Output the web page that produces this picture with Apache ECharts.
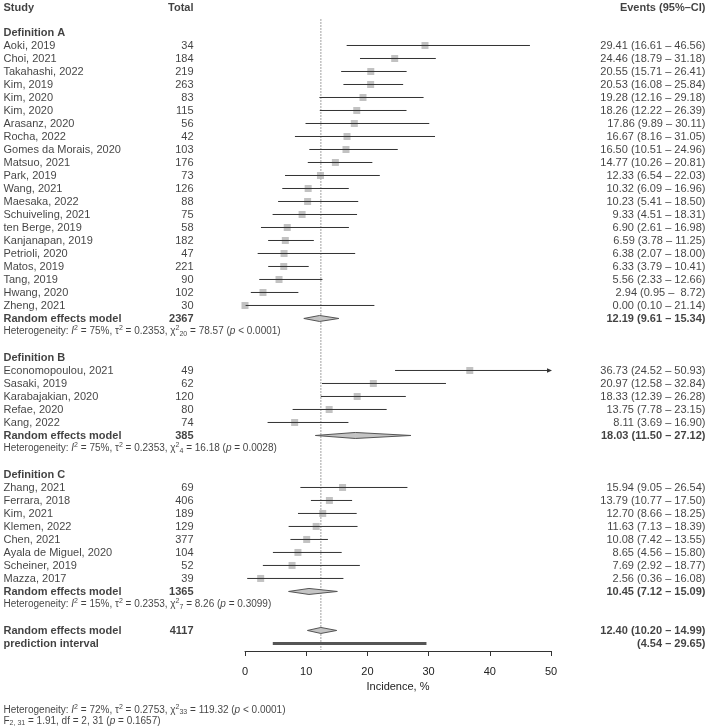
<!DOCTYPE html>
<html>
<head>
    <meta charset="utf-8">
    <title>Forest plot - Incidence</title>
    <script src="https://cdn.jsdelivr.net/npm/echarts@6/dist/echarts.min.js"></script>
    <style>
        html, body { margin: 0; padding: 0; background: #fff; }
        #chart { width: 709px; height: 728px; }
    </style>
</head>
<body>
<div id="chart"></div>
<script type="text/javascript">
    // ---- data ----
    var groupNames = ['Definition A', 'Definition B', 'Definition C'];

    var studiesA = ['Aoki, 2019', 'Choi, 2021', 'Takahashi, 2022', 'Kim, 2019', 'Kim, 2020', 'Kim, 2020',
        'Arasanz, 2020', 'Rocha, 2022', 'Gomes da Morais, 2020', 'Matsuo, 2021', 'Park, 2019', 'Wang, 2021',
        'Maesaka, 2022', 'Schuiveling, 2021', 'ten Berge, 2019', 'Kanjanapan, 2019', 'Petrioli, 2020',
        'Matos, 2019', 'Tang, 2019', 'Hwang, 2020', 'Zheng, 2021'];
    var totalsA = [34, 184, 219, 263, 83, 115, 56, 42, 103, 176, 73, 126, 88, 75, 58, 182, 47, 221, 90, 102, 30];
    var estA = [29.41, 24.46, 20.55, 20.53, 19.28, 18.26, 17.86, 16.67, 16.50, 14.77, 12.33, 10.32, 10.23, 9.33, 6.90, 6.59, 6.38, 6.33, 5.56, 2.94, 0.00];
    var lowA = [16.61, 18.79, 15.71, 16.08, 12.16, 12.22, 9.89, 8.16, 10.51, 10.26, 6.54, 6.09, 5.41, 4.51, 2.61, 3.78, 2.07, 3.79, 2.33, 0.95, 0.10];
    var upA = [46.56, 31.18, 26.41, 25.84, 29.18, 26.39, 30.11, 31.05, 24.96, 20.81, 22.03, 16.96, 18.50, 18.31, 16.98, 11.25, 18.00, 10.41, 12.66, 8.72, 21.14];

    var studiesB = ['Economopoulou, 2021', 'Sasaki, 2019', 'Karabajakian, 2020', 'Refae, 2020', 'Kang, 2022'];
    var totalsB = [49, 62, 120, 80, 74];
    var estB = [36.73, 20.97, 18.33, 13.75, 8.11];
    var lowB = [24.52, 12.58, 12.39, 7.78, 3.69];
    var upB = [50.93, 32.84, 26.28, 23.15, 16.90];

    var studiesC = ['Zhang, 2021', 'Ferrara, 2018', 'Kim, 2021', 'Klemen, 2022', 'Chen, 2021',
        'Ayala de Miguel, 2020', 'Scheiner, 2019', 'Mazza, 2017'];
    var totalsC = [69, 406, 189, 129, 377, 104, 52, 39];
    var estC = [15.94, 13.79, 12.70, 11.63, 10.08, 8.65, 7.69, 2.56];
    var lowC = [9.05, 10.77, 8.66, 7.13, 7.42, 4.56, 2.92, 0.36];
    var upC = [26.54, 17.50, 18.25, 18.39, 13.55, 15.80, 18.77, 16.08];

    // pooled (random effects) per group
    var pooledTotal = [2367, 385, 1365];
    var pooledEst = [12.19, 18.03, 10.45];
    var pooledLow = [9.61, 11.50, 7.12];
    var pooledUp = [15.34, 27.12, 15.09];
    var hetI2 = ['75%', '75%', '15%'];
    var hetTau2 = ['0.2353', '0.2353', '0.2353'];
    var hetDf = ['20', '4', '7'];
    var hetChi2 = ['78.57', '16.18', '8.26'];
    var hetP = ['< 0.0001', '= 0.0028', '= 0.3099'];

    // overall
    var overallTotal = 4117;
    var overallEst = 12.40, overallLow = 10.20, overallUp = 14.99;
    var predLow = 4.54, predUp = 29.65;
    var overallHet = { i2: '72%', tau2: '0.2753', df: '33', chi2: '119.32', p: '< 0.0001' };
    var subgroupTest = { f: '2, 31', val: '1.91', df: '2, 31', p: '= 0.1657' };

    var xTicks = [0, 10, 20, 30, 40, 50];

    // ---- layout ----
    var FONT = '"Liberation Sans", Arial, Helvetica, sans-serif';
    var xMin = xTicks[0], xMax = xTicks[xTicks.length - 1];
    var colStudy = 3, colTotal = 194, colEvents = 706;

    var groups = [
        { names: studiesA, totals: totalsA, est: estA, low: lowA, up: upA },
        { names: studiesB, totals: totalsB, est: estB, low: lowB, up: upB },
        { names: studiesC, totals: totalsC, est: estC, low: lowC, up: upC }
    ];

    function fmt(v) { return v.toFixed(2); }
    function ciText(e, l, u) {
        var us = fmt(u);
        if (u < 10) us = ' ' + us;
        return (e === null ? '' : fmt(e) + ' ') + '(' + fmt(l) + ' \u2013 ' + us + ')';
    }
    function it(s) { return '{it|' + s + '}'; }
    function sup(s) { return '{sup|' + s + '}'; }
    function sub(s) { return '{sub|' + s + '}'; }
    function hetText(i2, tau2, df, chi2, p) {
        return '{t|Heterogeneity: }' + it('I') + sup('2') + '{t| = ' + i2 + ', \u03c4}' + sup('2') +
            '{t| = ' + tau2 + ', \u03c7}' + sup('2') + sub(df) + '{t| = ' + chi2 + ' (}' + it('p') + '{t| ' + p + ')}';
    }

    var textData = [];
    function addText(x, row, text, alignLeft, bold) {
        textData.push({
            value: [x, row],
            name: text,
            label: {
                position: alignLeft ? 'right' : 'left',
                fontWeight: bold ? 'bold' : 'normal'
            }
        });
    }

    var squareData = [], ciData = [], diamondData = [], predData = [], refData = [];

    addText(colStudy, -2.85, 'Study', true, true);
    addText(colTotal, -2.85, 'Total', false, true);
    addText(colEvents, -2.85, 'Events (95%\u2013CI)', false, true);

    var r = -1;
    groups.forEach(function (g, gi) {
        addText(colStudy, r, groupNames[gi], true, true);
        g.names.forEach(function (nm, i) {
            var row = r + 1 + i;
            addText(colStudy, row, nm, true, false);
            addText(colTotal, row, String(g.totals[i]), false, false);
            addText(colEvents, row, ciText(g.est[i], g.low[i], g.up[i]), false, false);
            squareData.push([g.est[i], row]);
            ciData.push([g.low[i], g.up[i], row]);
        });
        var reRow = r + g.names.length + 1;
        addText(colStudy, reRow, 'Random effects model', true, true);
        addText(colTotal, reRow, String(pooledTotal[gi]), false, true);
        addText(colEvents, reRow, ciText(pooledEst[gi], pooledLow[gi], pooledUp[gi]), false, true);
        diamondData.push([pooledLow[gi], pooledEst[gi], pooledUp[gi], reRow]);
        addText(colStudy, reRow + 1, hetText(hetI2[gi], hetTau2[gi], hetDf[gi], hetChi2[gi], hetP[gi]), true, false);
        r += g.names.length + 4;
    });

    addText(colStudy, r, 'Random effects model', true, true);
    addText(colTotal, r, String(overallTotal), false, true);
    addText(colEvents, r, ciText(overallEst, overallLow, overallUp), false, true);
    diamondData.push([overallLow, overallEst, overallUp, r]);
    addText(colStudy, r + 1, 'prediction interval', true, true);
    addText(colEvents, r + 1, ciText(null, predLow, predUp), false, true);
    predData.push([predLow, predUp, r + 1]);
    refData.push([overallEst, -2, 46.5]);

    addText(colStudy, 51.1, hetText(overallHet.i2, overallHet.tau2, overallHet.df, overallHet.chi2, overallHet.p), true, false);
    addText(colStudy, 51.95, '{t|F}' + sub(subgroupTest.f) + '{t| = ' + subgroupTest.val + ', df = ' + subgroupTest.df + ' (}' +
        it('p') + '{t| ' + subgroupTest.p + ')}', true, false);

    // ---- chart ----
    var chart = echarts.init(document.getElementById('chart'));

    chart.setOption({
        animation: false,
        backgroundColor: '#fff',
        textStyle: { fontFamily: FONT },
        grid: [
            { left: 0, top: 0, width: 709, height: 728 },
            { left: 245, top: 0, width: 306, height: 651 }
        ],
        xAxis: [
            { gridIndex: 0, type: 'value', min: 0, max: 709, show: false },
            {
                gridIndex: 1, type: 'value', min: xMin, max: xMax, interval: 10,
                position: 'bottom',
                axisLine: { show: true, onZero: false, lineStyle: { color: '#333', width: 1 } },
                axisTick: { show: true, length: 5, lineStyle: { color: '#333' } },
                axisLabel: { fontSize: 11, color: '#222', margin: 15, fontFamily: FONT },
                splitLine: { show: false },
                name: 'Incidence, %',
                nameLocation: 'middle',
                nameGap: 29,
                nameTextStyle: { fontSize: 11, color: '#222', fontFamily: FONT }
            }
        ],
        yAxis: [
            { gridIndex: 0, type: 'value', min: -3.5, max: 52.5, inverse: true, show: false },
            { gridIndex: 1, type: 'value', min: -3.5, max: 46.58, inverse: true, show: false }
        ],
        series: [
            {
                // text columns
                type: 'scatter',
                xAxisIndex: 0, yAxisIndex: 0,
                symbolSize: 1,
                itemStyle: { color: 'rgba(0,0,0,0)' },
                silent: true,
                clip: false,
                label: {
                    show: true,
                    distance: 0,
                    fontSize: 11,
                    color: '#111',
                    fontFamily: FONT,
                    formatter: function (p) { return p.name; },
                    rich: {
                        t: { fontSize: 10, color: '#111', fontFamily: FONT },
                        it: { fontSize: 10, fontStyle: 'italic', color: '#111', fontFamily: FONT },
                        sup: { fontSize: 7, color: '#111', fontFamily: FONT, padding: [0, 0, 6, 0] },
                        sub: { fontSize: 7, color: '#111', fontFamily: FONT, padding: [5, 0, 0, 0] }
                    }
                },
                data: textData,
                z: 5
            },
            {
                // reference (overall estimate) dotted line
                type: 'custom',
                xAxisIndex: 1, yAxisIndex: 1,
                clip: false,
                silent: true,
                encode: { x: 0, y: [1, 2] },
                renderItem: function (params, api) {
                    var a = api.coord([api.value(0), api.value(1)]);
                    var b = api.coord([api.value(0), api.value(2)]);
                    return {
                        type: 'line',
                        shape: { x1: a[0], y1: a[1], x2: b[0], y2: b[1] },
                        style: { stroke: '#444', lineWidth: 1, lineDash: [1, 2] }
                    };
                },
                data: refData,
                z: 1
            },
            {
                // study squares
                type: 'scatter',
                xAxisIndex: 1, yAxisIndex: 1,
                symbol: 'rect',
                symbolSize: 7,
                itemStyle: { color: '#b3b3b3' },
                silent: true,
                data: squareData,
                z: 2
            },
            {
                // confidence intervals
                type: 'custom',
                xAxisIndex: 1, yAxisIndex: 1,
                clip: false,
                silent: true,
                encode: { x: [0, 1], y: 2 },
                renderItem: function (params, api) {
                    var lo = api.value(0), hi = api.value(1), row = api.value(2);
                    var p1 = api.coord([Math.max(lo, xMin), row]);
                    var p2 = api.coord([Math.min(hi, xMax), row]);
                    var kids = [{
                        type: 'line',
                        shape: { x1: p1[0], y1: p1[1], x2: p2[0], y2: p2[1] },
                        style: { stroke: '#333', lineWidth: 1 }
                    }];
                    if (hi > xMax) {
                        kids.push({
                            type: 'polygon',
                            shape: { points: [[p2[0] + 1, p2[1]], [p2[0] - 4, p2[1] - 2.2], [p2[0] - 4, p2[1] + 2.2]] },
                            style: { fill: '#333' }
                        });
                    }
                    return { type: 'group', children: kids };
                },
                data: ciData,
                z: 3
            },
            {
                // pooled diamonds
                type: 'custom',
                xAxisIndex: 1, yAxisIndex: 1,
                clip: false,
                silent: true,
                encode: { x: [0, 1, 2], y: 3 },
                renderItem: function (params, api) {
                    var row = api.value(3);
                    var l = api.coord([api.value(0), row]);
                    var m = api.coord([api.value(1), row]);
                    var u = api.coord([api.value(2), row]);
                    var hh = 3;
                    return {
                        type: 'polygon',
                        shape: { points: [[l[0], l[1]], [m[0], m[1] - hh], [u[0], u[1]], [m[0], m[1] + hh]] },
                        style: { fill: '#c4c4c4', stroke: '#555', lineWidth: 1 }
                    };
                },
                data: diamondData,
                z: 3
            },
            {
                // prediction interval
                type: 'custom',
                xAxisIndex: 1, yAxisIndex: 1,
                clip: false,
                silent: true,
                encode: { x: [0, 1], y: 2 },
                renderItem: function (params, api) {
                    var a = api.coord([api.value(0), api.value(2)]);
                    var b = api.coord([api.value(1), api.value(2)]);
                    return {
                        type: 'line',
                        shape: { x1: a[0], y1: a[1], x2: b[0], y2: b[1] },
                        style: { stroke: '#555', lineWidth: 3 }
                    };
                },
                data: predData,
                z: 3
            }
        ]
    });
</script>
</body>
</html>
